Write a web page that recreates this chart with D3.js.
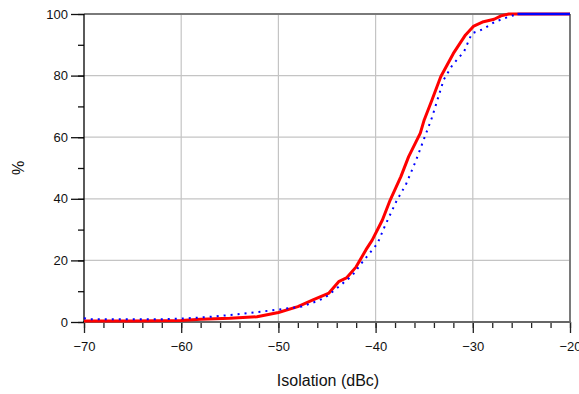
<!DOCTYPE html>
<html>
<head>
<meta charset="utf-8">
<script src="https://cdn.jsdelivr.net/npm/d3@7"></script>
<style>
  body { margin: 0; background: #fff; }
  svg { display: block; font-family: "Liberation Sans", Arial, sans-serif; }
</style>
</head>
<body>
<svg class="cdf_chart" width="579" height="394"></svg>
<script>
// isolation (dBc) vs cumulative %
var redX = [-70, -65, -60, -58, -55, -52.2, -50, -48, -46.5, -44.8, -43.8, -43, -42, -41, -40.35, -39.3, -38.5, -37.4, -36.6, -35.4, -35, -34.2, -33.3, -32, -30.75, -29.9, -28.9, -27.8, -27.1, -26.3, -20];
var redY = [0.3, 0.3, 0.5, 0.9, 1.2, 1.7, 3.1, 5.0, 7.1, 9.4, 13.1, 14.3, 17.9, 23.4, 26.6, 33.1, 39.6, 47.2, 53.7, 61.3, 65.6, 72.1, 79.6, 87.2, 93.2, 96.1, 97.5, 98.3, 99.4, 100, 100];

var blueX = [-70, -69.7, -65, -62, -60, -57.3, -54.2, -52.2, -49.6, -47.6, -46, -45.2, -44, -42.4, -41.4, -40.5, -39.8, -39, -37.8, -36.9, -35.9, -35, -34.2, -33, -32.1, -30.9, -30.1, -29, -27.7, -26.3, -25.4, -20];
var blueY = [1.3, 0.9, 0.9, 0.9, 1.1, 1.6, 2.5, 3.2, 4.2, 5.0, 6.8, 7.9, 10.9, 15.1, 19.3, 22.8, 25.5, 31.5, 39.6, 44.5, 52.0, 59.6, 66.4, 78.6, 83.4, 87.8, 93.7, 95.0, 97.5, 99.1, 100, 100];

var xTicks = [-70, -60, -50, -40, -30, -20];
var yTicks = [0, 20, 40, 60, 80, 100];

var svg = d3.select(".cdf_chart");
var margin = { top: 14, right: 9, bottom: 72, left: 84 };
var width = +svg.attr("width") - margin.left - margin.right;
var height = +svg.attr("height") - margin.top - margin.bottom;
var g = svg.append("g").attr("transform", "translate(" + margin.left + "," + margin.top + ")");

var x = d3.scaleLinear().domain([-70, -20]).range([0, width]);
var y = d3.scaleLinear().domain([0, 100]).range([height, 0]);

// grid
g.append("g").selectAll("line")
	.data(xTicks.slice(1, -1))
	.enter().append("line")
		.attr("x1", (d) => x(d)).attr("x2", (d) => x(d))
		.attr("y1", 0).attr("y2", height)
		.attr("stroke", "#c4c4c4").attr("stroke-width", 1.2);
g.append("g").selectAll("line")
	.data(yTicks.slice(1, -1))
	.enter().append("line")
		.attr("x1", 0).attr("x2", width)
		.attr("y1", (d) => y(d)).attr("y2", (d) => y(d))
		.attr("stroke", "#c4c4c4").attr("stroke-width", 1.2);

// frame (top / right)
g.append("line").attr("x1", 0).attr("x2", width).attr("y1", 0).attr("y2", 0)
	.attr("stroke", "#7a7a7a").attr("stroke-width", 2);
g.append("line").attr("x1", width).attr("x2", width).attr("y1", 0).attr("y2", height)
	.attr("stroke", "#7a7a7a").attr("stroke-width", 2);

// x axis
var xAxis = g.append("g")
	.attr("transform", "translate(0," + height + ")");
xAxis.call(d3.axisBottom(x).tickValues(d3.range(-70, -19, 2)).tickSize(6).tickFormat(""))
	.call((a) => a.select(".domain").remove());
xAxis.append("g")
	.call(d3.axisBottom(x).tickValues(xTicks).tickSize(11).tickPadding(9).tickFormat(d3.format("d")))
	.call((a) => a.select(".domain").remove());
xAxis.selectAll(".tick line").attr("stroke", "#222").attr("stroke-width", 1.3);
xAxis.selectAll("text").attr("fill", "#111").style("font-size", "13px").style("font-family", "'Liberation Sans', Arial, sans-serif");
xAxis.append("line").attr("x1", -1).attr("x2", width + 1)
	.attr("stroke", "#666").attr("stroke-width", 2);

// y axis
var yAxis = g.append("g");
yAxis.call(d3.axisLeft(y).tickValues(d3.range(0, 101, 10)).tickSize(6).tickFormat(""))
	.call((a) => a.select(".domain").remove());
yAxis.append("g")
	.call(d3.axisLeft(y).tickValues(yTicks).tickSize(13).tickPadding(3).tickFormat(d3.format("d")))
	.call((a) => a.select(".domain").remove());
yAxis.selectAll(".tick line").attr("stroke", "#111").attr("stroke-width", 1.3);
yAxis.selectAll("text").attr("fill", "#111").style("font-size", "13px").style("font-family", "'Liberation Sans', Arial, sans-serif");
yAxis.append("line").attr("y1", 0).attr("y2", height)
	.attr("stroke", "#000").attr("stroke-width", 1.3);

// curves
var line = d3.line()
	.x((d) => x(d[0]))
	.y((d) => y(d[1]));

var red = redX.map((v, i) => [v, redY[i]]);
var blue = blueX.map((v, i) => [v, blueY[i]]);

g.append("path")
	.attr("d", line(red))
	.attr("fill", "none")
	.attr("stroke", "#ff0000")
	.attr("stroke-width", 3)
	.attr("stroke-linejoin", "round");

g.append("path")
	.attr("d", line(blue))
	.attr("fill", "none")
	.attr("stroke", "#0000ff")
	.attr("stroke-width", 2)
	.attr("stroke-dasharray", "2,5");

g.append("path")
	.attr("d", line(blue.filter((d) => d[1] >= 100)))
	.attr("fill", "none")
	.attr("stroke", "#0000ff")
	.attr("stroke-width", 2.5);

// titles
svg.append("text")
	.attr("x", margin.left + width / 2 + 1)
	.attr("y", 386)
	.attr("text-anchor", "middle")
	.style("font-size", "16px")
	.attr("fill", "#111")
	.text("Isolation (dBc)");

svg.append("text")
	.attr("transform", "translate(24," + (margin.top + height / 2) + ") rotate(-90)")
	.attr("text-anchor", "middle")
	.style("font-size", "16px")
	.attr("fill", "#111")
	.text("%");
</script>
</body>
</html>
